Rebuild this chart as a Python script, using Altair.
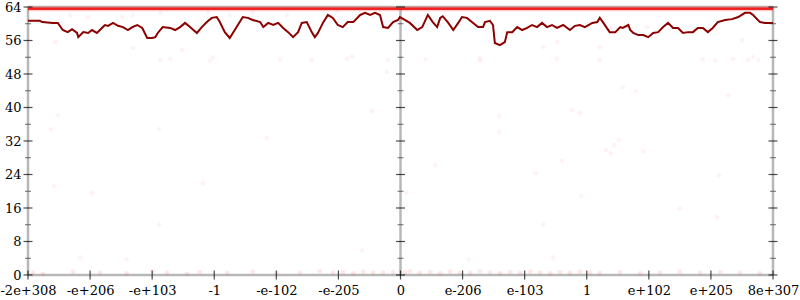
import altair as alt
import pandas as pd

# ---- data ----
x_labels = ["-2e+308", "-e+206", "-e+103", "-1", "-e-102", "-e-205", "0",
            "e-206", "e-103", "1", "e+102", "e+205", "8e+307"]
x_tick_pos = list(range(13))
y_major = [0, 8, 16, 24, 32, 40, 48, 56, 64]
y_minor = [4, 12, 20, 28, 36, 44, 52, 60]
axis_pos = [0, 6, 12]

line_x = [0.00, 0.19, 0.23, 0.40, 0.48, 0.56, 0.64, 0.71, 0.79, 0.81, 0.89, 0.97, 1.03, 1.11,
          1.19, 1.24, 1.29, 1.37, 1.45, 1.53, 1.61, 1.68, 1.76, 1.84, 1.92, 2.00, 2.05, 2.09,
          2.17, 2.29, 2.37, 2.45, 2.53, 2.61, 2.72, 2.80, 2.88, 2.96, 3.04, 3.09, 3.17, 3.25,
          3.30, 3.38, 3.46, 3.54, 3.62, 3.74, 3.79, 3.87, 3.95, 4.03, 4.11, 4.19, 4.27, 4.35,
          4.41, 4.49, 4.57, 4.62, 4.67, 4.75, 4.83, 4.91, 4.99, 5.07, 5.15, 5.24, 5.35, 5.43,
          5.51, 5.59, 5.67, 5.72, 5.80, 5.88, 5.96, 5.99, 6.07, 6.15, 6.27, 6.35, 6.44, 6.52,
          6.59, 6.64, 6.68, 6.77, 6.85, 6.93, 6.99, 7.07, 7.15, 7.25, 7.33, 7.36, 7.44, 7.49,
          7.52, 7.60, 7.68, 7.72, 7.80, 7.88, 7.96, 8.04, 8.12, 8.20, 8.28, 8.36, 8.44, 8.52,
          8.62, 8.73, 8.81, 8.89, 8.97, 9.09, 9.17, 9.21, 9.26, 9.37, 9.46, 9.54, 9.58, 9.67,
          9.70, 9.75, 9.83, 9.91, 9.99, 10.07, 10.15, 10.23, 10.31, 10.39, 10.47, 10.55, 10.63,
          10.71, 10.79, 10.87, 10.95, 11.03, 11.11, 11.23, 11.34, 11.44, 11.55, 11.63, 11.68,
          11.79, 11.87, 12.00]
line_y = [60.7, 60.7, 60.4, 60.2, 60.2, 58.5, 58.0, 58.7, 57.8, 56.8, 58.0, 57.8, 58.5, 57.8,
          59.0, 59.7, 59.5, 60.2, 59.5, 59.2, 58.5, 59.2, 59.7, 59.0, 56.6, 56.6, 56.8, 57.8,
          59.2, 59.0, 58.5, 59.2, 60.2, 59.2, 57.8, 59.2, 60.4, 61.4, 61.6, 60.4, 58.0, 56.6,
          57.8, 59.7, 61.6, 61.4, 60.9, 60.4, 59.2, 60.2, 59.7, 60.2, 59.0, 58.0, 56.8, 58.0,
          60.2, 60.4, 58.0, 56.8, 57.8, 60.2, 62.1, 61.4, 59.7, 59.2, 60.4, 60.4, 62.1, 62.6,
          62.1, 62.6, 62.1, 59.2, 59.0, 60.4, 60.9, 61.6, 60.9, 60.2, 58.5, 59.2, 62.1, 60.4,
          59.2, 61.4, 61.8, 60.2, 58.5, 60.2, 61.6, 61.4, 60.4, 59.2, 59.2, 60.4, 60.7, 59.7,
          55.4, 54.9, 55.6, 58.0, 58.0, 59.2, 58.5, 59.0, 59.7, 59.2, 60.2, 59.2, 59.7, 59.0,
          59.7, 58.5, 59.5, 59.7, 59.2, 60.2, 60.4, 61.4, 60.4, 58.0, 58.0, 59.2, 59.0, 59.7,
          58.5, 57.8, 57.3, 57.3, 56.8, 57.8, 58.0, 59.2, 60.2, 59.0, 59.0, 57.8, 58.0,
          58.0, 59.0, 59.0, 58.0, 59.0, 60.4, 60.9, 61.1, 61.6, 62.6, 62.6, 62.1,
          60.4, 60.2, 60.2]

scatter_x = [0.37, 0.48, 0.42, 1.03, 2.11, 2.11, 2.82, 3.85, 5.54, 5.78, 5.38, 0.84, 1.59,
             9.58, 9.79, 11.28, 7.59, 8.76, 8.89, 7.59, 9.52, 9.44, 9.31, 9.39, 9.91, 8.60,
             6.56, 8.18, 11.13, 6.09, 8.91, 10.50, 11.10, 8.30, 8.46, 7.10,
             2.13, 2.29, 2.93, 4.06, 4.57, 5.14, 5.80, 6.40, 7.28, 8.52, 9.21, 10.87, 11.07,
             11.36, 11.60, 11.76,
             0.68, 0.97, 1.52, 1.69, 2.13, 2.90, 3.25, 3.62, 4.17, 4.98, 5.56,
             0.44, 1.69, 2.48, 2.98, 5.22, 9.97, 11.50, 8.52, 9.21, 8.30, 7.28, 11.68]
scatter_y = [34.8, 38.2, 21.2, 19.5, 34.8, 12.1, 21.9, 32.7, 39.1, 48.5, 5.9, 4.2, 3.7,
             44.9, 43.9, 42.9, 37.9, 39.4, 38.6, 34.1, 32.2, 31.0, 29.8, 29.1, 29.5, 27.2,
             26.2, 24.3, 23.8, 19.7, 18.8, 15.9, 13.8, 12.1, 4.2, 3.7,
             51.4, 51.6, 51.2, 51.5, 51.3, 51.6, 51.4, 51.5, 51.3, 51.6, 51.4, 51.5, 51.2,
             51.6, 51.4, 51.3,
             62.1, 61.6, 61.6, 62.1, 62.6, 62.6, 62.1, 62.6, 62.1, 63.1, 61.6,
             55.6, 54.2, 53.7, 52.0, 52.2, 59.2, 56.1, 55.6, 54.4, 54.4, 51.8, 52.2]

bottom_x = [0.08, 0.24, 0.73, 1.16, 1.59, 2.01, 2.24, 2.56, 2.77, 3.21, 3.62, 4.01, 4.38,
            4.70, 4.91, 5.07, 5.24, 5.40, 5.56, 5.72, 5.88, 6.07, 6.15, 6.31, 6.48, 6.64,
            6.80, 6.96, 7.12, 7.28, 7.44, 7.60, 7.77, 7.93, 8.09, 8.25, 8.41, 8.57, 8.73,
            8.89, 9.05, 9.21, 9.54, 9.86, 10.18, 10.50, 10.83, 11.15, 11.47, 11.79]
bottom_y = [0.6, 0.3, 0.8, 0.5, 0.4, 0.9, 0.6, 0.3, 0.7, 0.5, 0.8, 0.4, 0.6,
            0.9, 0.5, 0.7, 0.4, 0.8, 0.6, 0.5, 0.7, 0.6, 0.9, 0.5, 0.7, 0.4,
            0.8, 0.6, 0.5, 0.9, 0.6, 0.4, 0.7, 0.5, 0.8, 0.6, 0.4, 0.7, 0.5,
            0.8, 0.6, 0.5, 0.7, 0.4, 0.6, 0.8, 0.5, 0.7, 0.6, 0.4]
top_band_value = [63.6]

FONT = "DejaVu Serif, Liberation Serif, serif"

# ---- scales / axes ----
xs = alt.Scale(domain=[0, 12], nice=False, zero=False)
ys = alt.Scale(domain=[0, 64], nice=False, zero=False)
label_expr = "[" + ",".join("'%s'" % s for s in x_labels) + "][datum.value]"
xaxis = alt.Axis(values=x_tick_pos, labelExpr=label_expr, tickSize=0, domain=False, grid=False,
                 labelPadding=9, labelFlush=False, labelOverlap=False, title=None,
                 labelFont=FONT, labelFontSize=13, labelColor="#000000")
yaxis = alt.Axis(values=y_major, tickSize=0, domain=False, grid=False, labelPadding=7,
                 labelOverlap=False, title=None,
                 labelFont=FONT, labelFontSize=13, labelColor="#000000")


def X(f):
    return alt.X(f, type="quantitative", scale=xs, axis=xaxis)


def Y(f):
    return alt.Y(f, type="quantitative", scale=ys, axis=yaxis)


line_df = pd.DataFrame({"x": line_x, "y": line_y})
scatter_df = pd.DataFrame({"x": scatter_x, "y": scatter_y})
bottom_df = pd.DataFrame({"x": bottom_x, "y": bottom_y})
vaxis_df = pd.DataFrame({"x": axis_pos})
haxis_df = pd.DataFrame({"y": [0, 64]})
band_df = pd.DataFrame({"y": top_band_value})

ymaj_rows = [{"x": a, "y": v} for a in axis_pos for v in y_major]
ymin_rows = [{"x": a, "y": v} for a in axis_pos for v in y_minor]
xmaj_rows = [{"x": p, "y": 0} for p in x_tick_pos]

vrules = alt.Chart(vaxis_df).mark_rule(color="#b8b8b8", strokeWidth=2.5).encode(x=X("x"))
hrules = alt.Chart(haxis_df).mark_rule(color="#b8b8b8", strokeWidth=2.5).encode(y=Y("y"))

band_soft = alt.Chart(band_df).mark_rule(color="#ff3030", strokeWidth=5, opacity=0.25).encode(y=Y("y"))
band = alt.Chart(band_df).mark_rule(color="#ee1010", strokeWidth=2.5, opacity=0.9).encode(y=Y("y"))

scatter = alt.Chart(scatter_df).mark_circle(color="#ff0000", size=22, opacity=0.05).encode(
    x=X("x"), y=Y("y"))
bottom = alt.Chart(bottom_df).mark_circle(color="#ff0000", size=22, opacity=0.09).encode(
    x=X("x"), y=Y("y"))

line = alt.Chart(line_df).mark_line(color="#8b0000", strokeWidth=2).encode(x=X("x"), y=Y("y"))

ymaj = alt.Chart(pd.DataFrame(ymaj_rows)).mark_tick(
    orient="horizontal", size=9, thickness=1.2, color="#000000").encode(x=X("x"), y=Y("y"))
ymin = alt.Chart(pd.DataFrame(ymin_rows)).mark_tick(
    orient="horizontal", size=6, thickness=1, color="#333333").encode(x=X("x"), y=Y("y"))
xmaj = alt.Chart(pd.DataFrame(xmaj_rows)).mark_tick(
    orient="vertical", size=9, thickness=1.2, color="#000000").encode(x=X("x"), y=Y("y"))

chart = alt.layer(vrules, hrules, scatter, bottom, band_soft, band, line, ymaj, ymin, xmaj).properties(
    width=745, height=268,
    padding={"left": 28, "top": 7, "right": 27, "bottom": 25},
    autosize="none",
    background="white",
).configure_view(stroke=None).configure_axis(
    labelFont=FONT, labelFontSize=13, labelColor="#000000"
)

chart.save("out.html", embed_options={"renderer": "svg", "actions": False})
